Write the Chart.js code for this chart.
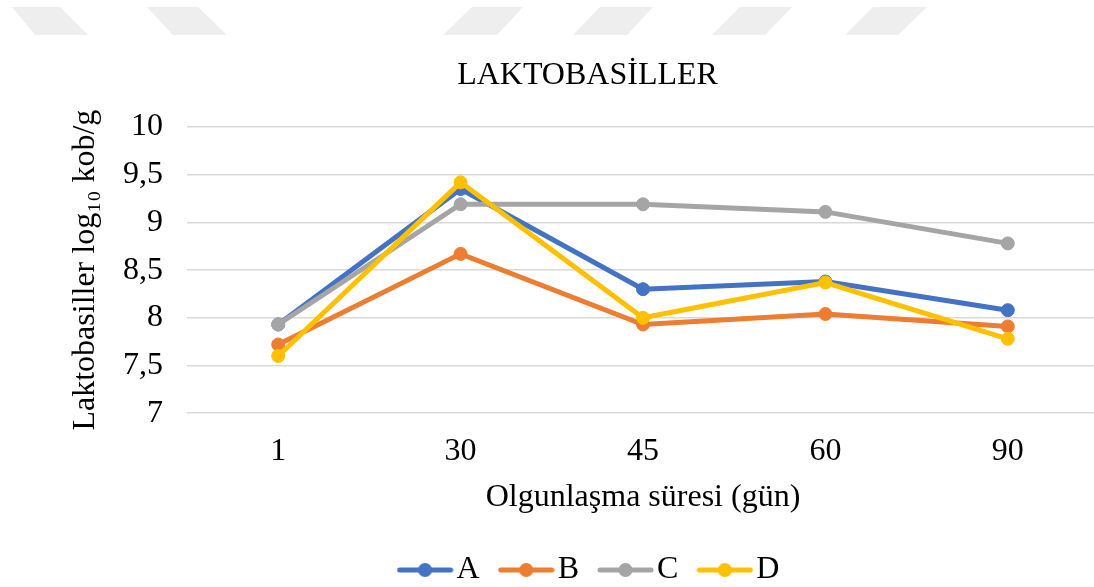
<!DOCTYPE html>
<html>
<head>
<meta charset="utf-8">
<script src="https://cdn.jsdelivr.net/npm/chart.js@4"></script>
<style>
html,body{margin:0;padding:0;overflow:hidden;background:#fff;width:1094px;height:587px;}
#c{position:absolute;left:0;top:0;}
.wm{position:absolute;top:7px;height:28px;background:#eeeeee;filter:blur(0.6px);}
</style>
</head>
<body>
<div class="wm" style="left:12px;width:76px;clip-path:polygon(0 0,48px 0,76px 28px,23px 28px)"></div>
<div class="wm" style="left:147px;width:80px;clip-path:polygon(0 0,51px 0,80px 28px,26px 28px)"></div>
<div class="wm" style="left:443px;width:80px;clip-path:polygon(29px 0,80px 0,54px 28px,0 28px)"></div>
<div class="wm" style="left:573px;width:80px;clip-path:polygon(27px 0,80px 0,54px 28px,0 28px)"></div>
<div class="wm" style="left:712px;width:80px;clip-path:polygon(28px 0,80px 0,53px 28px,0 28px)"></div>
<div class="wm" style="left:845px;width:82px;clip-path:polygon(28px 0,82px 0,53px 28px,0 28px)"></div>
<canvas id="c" width="1119" height="596"></canvas>
<script>
// ---- data ----
const days = ['1', '30', '45', '60', '90'];
const seriesNames = ['A', 'B', 'C', 'D'];
const seriesA = [7.93, 9.35, 8.30, 8.38, 8.08];
const seriesB = [7.72, 8.67, 7.93, 8.04, 7.91];
const seriesC = [7.93, 9.19, 9.19, 9.11, 8.78];
const seriesD = [7.60, 9.42, 8.00, 8.37, 7.78];
const yTickLabels = ['7', '7,5', '8', '8,5', '9', '9,5', '10'];
const chartTitle = 'LAKTOBASİLLER';
const xTitle = 'Olgunlaşma süresi (gün)';
const yTitle = 'Laktobasiller log₁₀ kob/g';

// ---- styling ----
const colors = ['#4472C4', '#ED7D31', '#A5A5A5', '#FFC000'];
const FONT = "'Liberation Serif', 'Times New Roman', serif";

function legendMarker(color) {
  const cv = document.createElement('canvas');
  cv.width = 57; cv.height = 16;
  const g = cv.getContext('2d');
  g.strokeStyle = color; g.lineWidth = 5; g.lineCap = 'round';
  g.beginPath(); g.moveTo(3, 8); g.lineTo(54, 8); g.stroke();
  g.fillStyle = color;
  g.beginPath(); g.arc(28.5, 8, 7, 0, Math.PI * 2); g.fill();
  return cv;
}

const allSeries = [seriesA, seriesB, seriesC, seriesD];
const legendImgs = colors.map(legendMarker);
const datasets = allSeries.map((vals, i) => ({
  label: seriesNames[i],
  data: vals,
  borderColor: colors[i],
  backgroundColor: colors[i],
  borderWidth: 5,
  pointRadius: 6.5,
  pointBorderWidth: 1,
  pointBackgroundColor: colors[i],
  pointBorderColor: colors[i],
  pointStyle: 'circle',
  tension: 0,
  order: 3 - i
}));

const legendShift = {
  id: 'legendShift',
  afterLayout(chart) {
    const l = chart.legend;
    if (l) { l.left += 7; l.right += 7; }
  }
};

new Chart(document.getElementById('c'), {
  type: 'line',
  data: { labels: days, datasets },
  plugins: [legendShift],
  options: {
    responsive: false,
    animation: false,
    layout: { padding: { left: 76, right: 20, top: 56, bottom: 0 } },
    plugins: {
      title: {
        display: true,
        text: chartTitle,
        color: '#000',
        font: { family: FONT, size: 32, weight: 'normal', lineHeight: 1.2 },
        padding: { top: 0, bottom: 32.6 }
      },
      legend: {
        position: 'bottom',
        labels: {
          color: '#000',
          font: { family: FONT, size: 32 },
          usePointStyle: true,
          pointStyleWidth: 31,
          padding: 31,
          generateLabels(chart) {
            return chart.data.datasets.map((d, i) => ({
              text: d.label,
              pointStyle: legendImgs[i],
              fillStyle: colors[i],
              strokeStyle: colors[i],
              lineWidth: 0,
              hidden: false,
              datasetIndex: i
            }));
          }
        }
      },
      tooltip: { enabled: false }
    },
    scales: {
      x: {
        offset: true,
        grid: { display: false, drawTicks: false },
        border: { display: false },
        ticks: { color: '#000', font: { family: FONT, size: 32 }, padding: 19 },
        title: {
          display: true, text: xTitle, color: '#000',
          font: { family: FONT, size: 32, lineHeight: 1.2 },
          padding: { top: -11, bottom: 6 }
        }
      },
      y: {
        min: 7, max: 10,
        afterFit(scale) { scale.width = 111; },
        grid: { color: '#D9D9D9', lineWidth: 1.5, drawTicks: false },
        border: { display: false },
        ticks: {
          stepSize: 0.5, color: '#000', font: { family: FONT, size: 32 }, padding: 24,
          callback: (v, i) => yTickLabels[i]
        },
        title: {
          display: true, text: yTitle, color: '#000',
          font: { family: FONT, size: 32, lineHeight: 1 },
          padding: { top: -6, bottom: 0 }
        }
      }
    }
  }
});
</script>
</body>
</html>
